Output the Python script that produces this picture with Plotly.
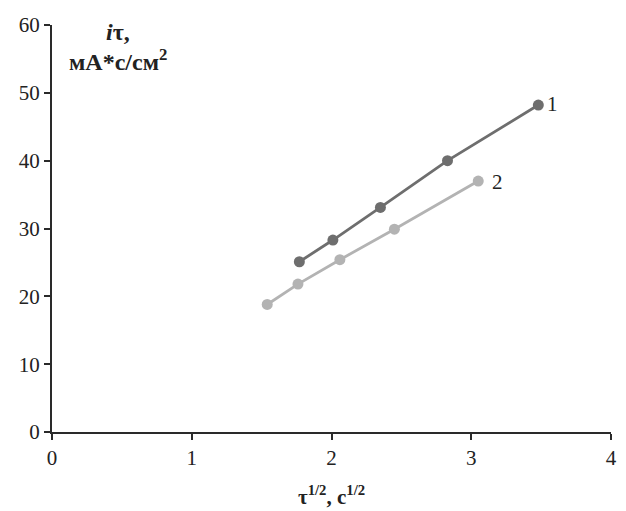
import plotly.graph_objects as go

x1 = [1.77, 2.01, 2.35, 2.83, 3.48]
y1 = [25.1, 28.3, 33.1, 40.0, 48.2]
x2 = [1.54, 1.76, 2.06, 2.45, 3.05]
y2 = [18.8, 21.8, 25.4, 29.9, 37.0]
series_labels = ["1", "2"]
x_ticks = [0, 1, 2, 3, 4]
y_ticks = [0, 10, 20, 30, 40, 50, 60]

c1 = "#6e6e6e"
c2 = "#b3b3b3"
axc = "#2a2a2a"
txt = "#222222"
font = "Liberation Serif"
fs = 21

fig = go.Figure()
fig.add_trace(go.Scatter(x=x1, y=y1, mode="lines+markers",
                         line=dict(color=c1, width=2.8),
                         marker=dict(color=c1, size=11), showlegend=False))
fig.add_trace(go.Scatter(x=x2, y=y2, mode="lines+markers",
                         line=dict(color=c2, width=2.8),
                         marker=dict(color=c2, size=11), showlegend=False))

fig.add_annotation(x=x1[-1], y=y1[-1], text=series_labels[0], showarrow=False,
                   xanchor="left", xshift=7, yshift=1,
                   font=dict(family=font, size=fs, color=txt))
fig.add_annotation(x=x2[-1], y=y2[-1], text=series_labels[1], showarrow=False,
                   xanchor="left", xshift=12, yshift=-1,
                   font=dict(family=font, size=fs, color=txt))

fig.add_annotation(xref="x", yref="y", x=0.47, y=59.0,
                   text="<b><i>i</i>τ,</b>", showarrow=False,
                   font=dict(family=font, size=24, color=txt))
fig.add_annotation(xref="x", yref="y", x=0.47, y=54.9,
                   text="<b>мА*с/см<sup>2</sup></b>", showarrow=False,
                   font=dict(family=font, size=24, color=txt))
fig.add_annotation(xref="paper", yref="paper", x=0.5, y=-0.155,
                   yanchor="middle",
                   text="<b>τ<sup>1/2</sup>, с<sup>1/2</sup></b>", showarrow=False,
                   font=dict(family=font, size=fs, color=txt))

fig.update_layout(
    width=626, height=511,
    margin=dict(l=52, r=9, t=25, b=79),
    paper_bgcolor="white", plot_bgcolor="white",
    font=dict(family=font, size=fs, color=txt),
    xaxis=dict(range=[0, 4], tickvals=x_ticks, showgrid=False, zeroline=False,
               showline=True, linecolor=axc, linewidth=2,
               ticks="outside", ticklen=6, tickwidth=2, tickcolor=axc),
    yaxis=dict(range=[0, 60], tickvals=y_ticks, showgrid=False, zeroline=False,
               showline=True, linecolor=axc, linewidth=2,
               ticks="outside", ticklen=6, tickwidth=2, tickcolor=axc),
)

fig.write_html("out.html")
